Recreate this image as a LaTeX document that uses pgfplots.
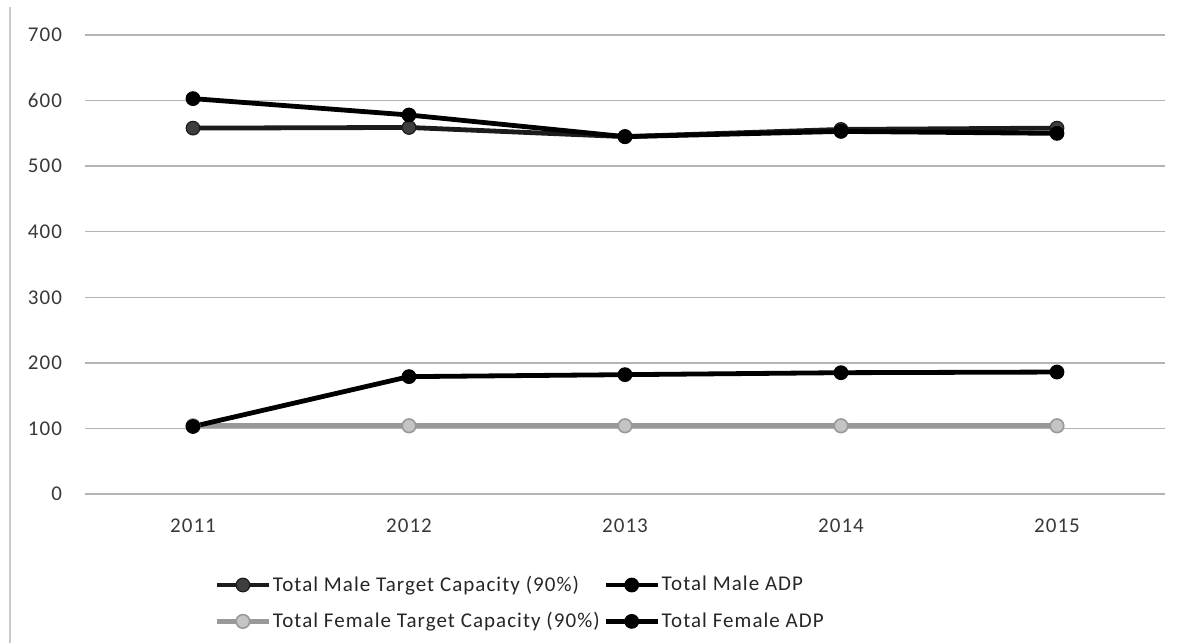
\documentclass[border=0pt]{standalone}
\usepackage{pgfplots}
\pgfplotsset{compat=1.18}
\usepackage{fontspec}
\setmainfont{Carlito}[LetterSpace=5]

\definecolor{gridc}{HTML}{B4B4B4}
\definecolor{tickc}{HTML}{383838}
\definecolor{maletgt}{HTML}{1C1C1C}
\definecolor{femtgt}{HTML}{999999}
\definecolor{femtgtfill}{HTML}{C4C4C4}
\definecolor{framec}{HTML}{C8C8C8}

\begin{document}
\begin{tikzpicture}
\begin{axis}[
  scale only axis,
  width=540pt, height=229.5pt,
  xmin=-0.5, xmax=4.5,
  ymin=0, ymax=700,
  xtick={0,1,2,3,4},
  xticklabels={2011,2012,2013,2014,2015},
  ytick={0,100,...,700},
  ymajorgrids,
  grid style={gridc, line width=0.7pt},
  axis line style={draw=none},
  axis x line*=bottom,
  axis y line*=left,
  major tick length=0pt,
  tick label style={font=\fontsize{10.5}{12}\selectfont, text=tickc},
  /pgf/number format/assume math mode=true,
  xticklabel style={yshift=-9pt},
  yticklabel style={xshift=-8pt},
  legend columns=2,
  legend cell align=left,
  legend style={
    draw=none, fill=none,
    font=\fontsize{10.5}{12.5}\selectfont,
    text=black!85,
    at={(0.114,-0.16)}, anchor=north west,
    nodes={inner xsep=0.8pt},
    /tikz/every even column/.append style={column sep=1pt},
    row sep=5pt,
  },
  legend image code/.code={
    \draw[#1] (0pt,0pt) -- (13pt,0pt) plot coordinates {(13pt,0pt)} -- (26pt,0pt);
  },
  every axis plot/.append style={line width=2.4pt, mark=*, mark size=3.4pt},
]
\coordinate (bl) at (rel axis cs:0,0);

% Male target capacity (90%)
\addplot[maletgt, mark options={fill=maletgt!85, draw=maletgt, line width=0.6pt}]
  coordinates {(0,558) (1,559) (2,545) (3,556) (4,558)};
\addlegendentry{Total Male Target Capacity (90\%)}

% Male average daily population
\addplot[black, mark options={fill=black, draw=black, line width=0.6pt}]
  coordinates {(0,603) (1,578) (2,545) (3,553) (4,550)};
\addlegendentry{Total Male ADP}

% Female target capacity (90%)
\addplot[femtgt, mark options={fill=femtgtfill, draw=femtgt, line width=0.8pt}]
  coordinates {(0,104) (1,104) (2,104) (3,104) (4,104)};
\addlegendentry{Total Female Target Capacity (90\%)}

% Female average daily population
\addplot[black, mark options={fill=black, draw=black, line width=0.6pt}]
  coordinates {(0,103) (1,179) (2,182) (3,185) (4,186)};
\addlegendentry{Total Female ADP}
\end{axis}
% chart frame edge on the left
\draw[framec, line width=0.6pt] (bl) ++(-37.5pt,-74.5pt) -- ++(0pt,318pt);
\pgfresetboundingbox
\path (bl) ++(-42.5pt,-74.5pt) rectangle ++(595.5pt,321.5pt);
\end{tikzpicture}
\end{document}
